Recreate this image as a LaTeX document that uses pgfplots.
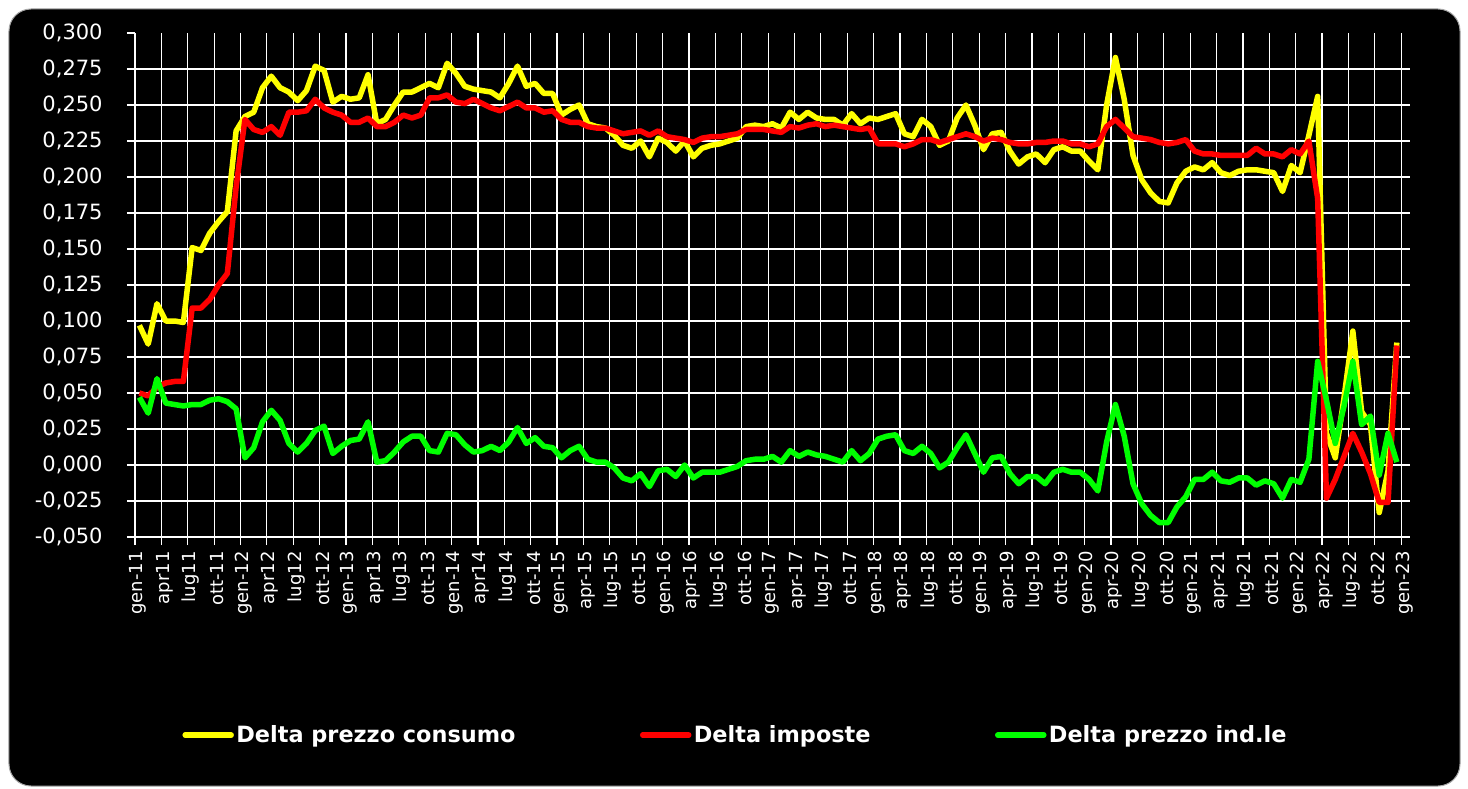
\documentclass[border=0pt]{standalone}
\usepackage{fontspec}
\setmainfont{DejaVu Sans}
\usepackage{pgfplots}
\usepackage{pgfplotstable}
\pgfplotsset{compat=1.18}
\usetikzlibrary{backgrounds}
\definecolor{yel}{RGB}{255,255,0}
\definecolor{rd}{RGB}{255,0,0}
\definecolor{grn}{RGB}{0,255,0}

\pgfplotstableread{
i c t g
0 0.097 0.050 0.047
1 0.084 0.048 0.036
2 0.112 0.054 0.060
3 0.100 0.057 0.043
4 0.100 0.058 0.042
5 0.099 0.058 0.041
6 0.151 0.109 0.042
7 0.149 0.109 0.042
8 0.161 0.115 0.045
9 0.169 0.125 0.046
10 0.176 0.133 0.044
11 0.232 0.193 0.039
12 0.242 0.240 0.005
13 0.245 0.233 0.012
14 0.262 0.231 0.030
15 0.270 0.235 0.038
16 0.262 0.229 0.031
17 0.259 0.245 0.015
18 0.253 0.245 0.009
19 0.260 0.246 0.015
20 0.277 0.254 0.024
21 0.274 0.248 0.027
22 0.252 0.245 0.008
23 0.256 0.243 0.013
24 0.254 0.238 0.017
25 0.255 0.238 0.018
26 0.271 0.241 0.030
27 0.237 0.235 0.002
28 0.240 0.235 0.003
29 0.250 0.238 0.009
30 0.259 0.243 0.016
31 0.259 0.241 0.020
32 0.262 0.243 0.020
33 0.265 0.255 0.010
34 0.262 0.255 0.009
35 0.279 0.257 0.022
36 0.272 0.252 0.021
37 0.263 0.251 0.014
38 0.261 0.254 0.009
39 0.260 0.251 0.010
40 0.259 0.248 0.013
41 0.255 0.246 0.010
42 0.265 0.249 0.016
43 0.277 0.252 0.026
44 0.263 0.248 0.015
45 0.265 0.248 0.019
46 0.258 0.245 0.013
47 0.258 0.246 0.012
48 0.243 0.240 0.005
49 0.247 0.238 0.010
50 0.250 0.238 0.013
51 0.237 0.235 0.004
52 0.235 0.234 0.002
53 0.234 0.234 0.002
54 0.229 0.232 -0.002
55 0.222 0.230 -0.009
56 0.220 0.231 -0.011
57 0.225 0.232 -0.006
58 0.214 0.229 -0.015
59 0.227 0.232 -0.004
60 0.224 0.228 -0.003
61 0.218 0.227 -0.008
62 0.225 0.226 0.000
63 0.214 0.224 -0.009
64 0.220 0.227 -0.005
65 0.222 0.228 -0.005
66 0.223 0.228 -0.005
67 0.225 0.229 -0.003
68 0.227 0.230 -0.001
69 0.235 0.233 0.003
70 0.236 0.233 0.004
71 0.235 0.233 0.004
72 0.237 0.232 0.006
73 0.234 0.231 0.002
74 0.245 0.235 0.010
75 0.240 0.234 0.006
76 0.245 0.236 0.009
77 0.241 0.237 0.007
78 0.240 0.235 0.006
79 0.240 0.236 0.004
80 0.236 0.235 0.002
81 0.244 0.234 0.010
82 0.237 0.233 0.003
83 0.241 0.234 0.008
84 0.240 0.223 0.018
85 0.242 0.223 0.020
86 0.244 0.223 0.021
87 0.230 0.221 0.010
88 0.228 0.223 0.008
89 0.240 0.226 0.013
90 0.235 0.226 0.008
91 0.222 0.224 -0.002
92 0.225 0.226 0.002
93 0.241 0.228 0.012
94 0.250 0.230 0.021
95 0.236 0.228 0.008
96 0.219 0.225 -0.005
97 0.230 0.227 0.005
98 0.231 0.226 0.006
99 0.218 0.224 -0.006
100 0.209 0.223 -0.013
101 0.214 0.223 -0.008
102 0.216 0.224 -0.008
103 0.210 0.224 -0.013
104 0.219 0.225 -0.005
105 0.221 0.225 -0.003
106 0.218 0.223 -0.005
107 0.218 0.223 -0.005
108 0.211 0.221 -0.010
109 0.205 0.223 -0.018
110 0.250 0.235 0.016
111 0.283 0.240 0.042
112 0.254 0.234 0.020
113 0.215 0.228 -0.013
114 0.198 0.227 -0.027
115 0.189 0.226 -0.035
116 0.183 0.224 -0.040
117 0.182 0.223 -0.040
118 0.196 0.224 -0.029
119 0.204 0.226 -0.022
120 0.207 0.218 -0.010
121 0.205 0.216 -0.010
122 0.210 0.216 -0.005
123 0.203 0.215 -0.011
124 0.201 0.215 -0.012
125 0.204 0.215 -0.009
126 0.205 0.215 -0.009
127 0.205 0.220 -0.014
128 0.204 0.216 -0.011
129 0.203 0.216 -0.013
130 0.190 0.214 -0.023
131 0.208 0.219 -0.010
132 0.203 0.216 -0.012
133 0.229 0.225 0.004
134 0.256 0.185 0.072
135 0.022 -0.023 0.045
136 0.005 -0.010 0.015
137 0.047 0.006 0.041
138 0.093 0.022 0.072
139 0.037 0.009 0.028
140 0.028 -0.006 0.034
141 -0.033 -0.026 -0.007
142 -0.004 -0.026 0.022
143 0.085 0.083 0.002
}\datatab

\begin{document}
\begin{tikzpicture}
\begin{axis}[
  name=ax, at={(0,0)}, anchor=south west,
  scale only axis, width=637.5pt, height=252pt,
  xmin=0, xmax=145, ymin=-0.05, ymax=0.3,
  axis line style={draw=none},
  tick align=outside, tick pos=left,
  major tick length=4pt,
  tick style={white, line width=0.6pt},
  grid=major,
  major grid style={white, line width=0.6pt},
  xtick={0,3,...,144},
  xticklabels={gen-11,apr11,lug11,ott-11,gen-12,apr12,lug12,ott-12,gen-13,apr13,lug13,ott-13,gen-14,apr14,lug14,ott-14,gen-15,apr-15,lug-15,ott-15,gen-16,apr-16,lug-16,ott-16,gen-17,apr-17,lug-17,ott-17,gen-18,apr-18,lug-18,ott-18,gen-19,apr-19,lug-19,ott-19,gen-20,apr-20,lug-20,ott-20,gen-21,apr-21,lug-21,ott-21,gen-22,apr-22,lug-22,ott-22,gen-23},
  xticklabel style={xshift=1.5pt, yshift=-3pt, rotate=90, anchor=east, inner sep=0pt, text=white, font=\fontsize{9}{10}\selectfont},
  ytick={-0.05,-0.025,0,0.025,0.05,0.075,0.1,0.125,0.15,0.175,0.2,0.225,0.25,0.275},
  yticklabels={{-0,050},{-0,025},{0,000},{0,025},{0,050},{0,075},{0,100},{0,125},{0,150},{0,175},{0,200},{0,225},{0,250},{0,275}},
  extra y ticks={0.3},
  extra y tick labels={0{,}300},
  extra y tick style={grid=none},
  yticklabel style={anchor=east, inner sep=0pt, xshift=-12pt, text=white, font=\fontsize{10.5}{12}\selectfont},
  legend columns=3,
  legend style={at={(0.0369,-0.393)}, anchor=west, draw=none, fill=none, text=white,
    font=\bfseries\fontsize{11.2}{13}\selectfont, inner sep=0pt,
    nodes={inner sep=1.2pt},
    /tikz/every even column/.append style={column sep=61pt}},
  legend image code/.code={\draw[#1, line cap=round] (0pt,0pt) -- (23pt,0pt);},
  every axis plot/.append style={line width=2.75pt, line join=round},
]
\addplot[yel] table[x expr=\thisrow{i}+0.5, y=c]{\datatab};
\addlegendentry{Delta prezzo consumo}
\addplot[rd] table[x expr=\thisrow{i}+0.5, y=t]{\datatab};
\addlegendentry{Delta imposte}
\addplot[grn] table[x expr=\thisrow{i}+0.5, y=g]{\datatab};
\addlegendentry{Delta prezzo ind.le}
\end{axis}
\begin{scope}[on background layer]
\fill[white] (-67.5pt,-125.5pt) rectangle (666.5pt,268.5pt);
\filldraw[fill=black, draw=gray!70, line width=0.5pt, rounded corners=11pt] (-63pt,-124.5pt) rectangle (662.5pt,264pt);
\end{scope}
\pgfresetboundingbox
\path[use as bounding box] (-67.5pt,-125.5pt) rectangle (666.5pt,268.5pt);
\end{tikzpicture}
\end{document}
